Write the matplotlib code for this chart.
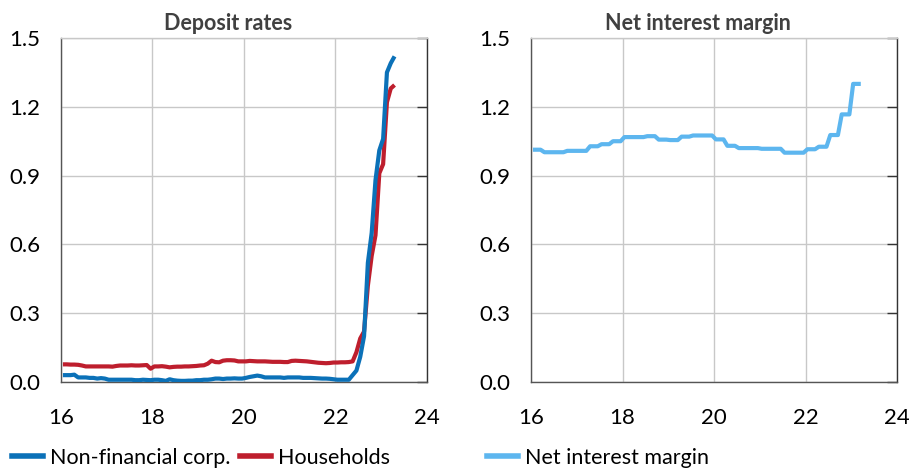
import matplotlib
matplotlib.use("Agg")
import matplotlib.pyplot as plt
import numpy as np
from matplotlib.lines import Line2D

plt.rcParams['font.family'] = ['Lato', 'DejaVu Sans']

# Monthly observations, Jan 2016 .. Apr 2023 (x = year - 2000)
months = np.arange(88)
x_months = 16 + (months + 0.5) / 12.0

nfc = [0.030, 0.030, 0.030, 0.032, 0.020, 0.020, 0.020, 0.018, 0.018, 0.015, 0.017, 0.015,
       0.010, 0.010, 0.010, 0.010, 0.010, 0.010, 0.010, 0.008, 0.008, 0.010, 0.009, 0.008,
       0.010, 0.010, 0.008, 0.005, 0.012, 0.008, 0.006, 0.005, 0.005, 0.006, 0.006, 0.008,
       0.008, 0.010, 0.010, 0.012, 0.015, 0.015, 0.013, 0.015, 0.015, 0.016, 0.015, 0.015,
       0.018, 0.022, 0.025, 0.028, 0.025, 0.020, 0.020, 0.020, 0.020, 0.020, 0.018, 0.020,
       0.020, 0.020, 0.020, 0.018, 0.018, 0.018, 0.017, 0.016, 0.015, 0.015, 0.014, 0.012,
       0.010, 0.010, 0.010, 0.010, 0.030, 0.050, 0.110, 0.200, 0.520, 0.650, 0.880, 1.010,
       1.060, 1.350, 1.390, 1.420]

households = [0.077, 0.077, 0.076, 0.076, 0.075, 0.072, 0.068, 0.068, 0.068, 0.068, 0.068, 0.068,
              0.068, 0.067, 0.070, 0.072, 0.072, 0.072, 0.073, 0.072, 0.072, 0.073, 0.074, 0.058,
              0.068, 0.068, 0.069, 0.067, 0.064, 0.066, 0.067, 0.067, 0.068, 0.068, 0.069, 0.070,
              0.072, 0.073, 0.080, 0.093, 0.087, 0.086, 0.093, 0.095, 0.095, 0.094, 0.090, 0.090,
              0.090, 0.092, 0.091, 0.090, 0.090, 0.090, 0.089, 0.088, 0.088, 0.088, 0.087, 0.087,
              0.092, 0.093, 0.092, 0.091, 0.090, 0.088, 0.086, 0.084, 0.083, 0.082, 0.083, 0.085,
              0.085, 0.086, 0.086, 0.087, 0.090, 0.130, 0.190, 0.220, 0.420, 0.550, 0.640, 0.910,
              0.950, 1.220, 1.280, 1.295]

nim = [1.013, 1.013, 1.013, 1.002, 1.002, 1.002, 1.002, 1.002, 1.002, 1.008, 1.008, 1.008,
       1.008, 1.008, 1.008, 1.028, 1.028, 1.028, 1.037, 1.037, 1.037, 1.050, 1.050, 1.050,
       1.068, 1.068, 1.068, 1.068, 1.068, 1.068, 1.072, 1.072, 1.072, 1.057, 1.057, 1.057,
       1.055, 1.055, 1.055, 1.070, 1.070, 1.070, 1.075, 1.075, 1.075, 1.075, 1.075, 1.075,
       1.058, 1.058, 1.058, 1.030, 1.030, 1.030, 1.020, 1.020, 1.020, 1.020, 1.020, 1.020,
       1.017, 1.017, 1.017, 1.017, 1.017, 1.017, 1.000, 1.000, 1.000, 1.000, 1.000, 1.000,
       1.015, 1.015, 1.015, 1.026, 1.026, 1.026, 1.077, 1.077, 1.077, 1.167, 1.167, 1.167,
       1.300, 1.300, 1.300]

x_ticks = [16, 18, 20, 22, 24]
y_ticks = [0.0, 0.3, 0.6, 0.9, 1.2, 1.5]
y_labels = ["0.0", "0.3", "0.6", "0.9", "1.2", "1.5"]

titles = ["Deposit rates", "Net interest margin"]
c_nfc = "#0B71B8"
c_hh = "#BE1E2D"
c_nim = "#5DB6EF"

fig = plt.figure(figsize=(9.09, 4.70), dpi=100)
ax1 = fig.add_axes([0.0671, 0.1872, 0.4026, 0.7319])
ax2 = fig.add_axes([0.5842, 0.1872, 0.4026, 0.7319])

ax1.plot(x_months, households, color=c_hh, lw=3.0, solid_capstyle='butt', zorder=3)
ax1.plot(x_months, nfc, color=c_nfc, lw=3.0, solid_capstyle='butt', zorder=4)
ax2.plot(x_months[:len(nim)], nim, color=c_nim, lw=3.0, solid_capstyle='butt', zorder=3)

for ax, t in zip([ax1, ax2], titles):
    ax.set_xlim(16, 24)
    ax.set_ylim(0, 1.5)
    ax.set_xticks(x_ticks)
    ax.set_yticks(y_ticks)
    ax.set_yticklabels(y_labels)
    ax.grid(True, color="#c8c8c8", lw=1.0, zorder=0)
    ax.set_axisbelow(True)
    ax.tick_params(axis='x', length=0, pad=19, labelsize=16, colors="#000000")
    ax.tick_params(axis='y', which='both', left=False, right=True, direction='in',
                   length=7, width=1.0, color="#333333", pad=15, labelsize=16)
    ax.tick_params(axis='y', labelleft=True, labelright=False)
    for lbl in ax.get_yticklabels():
        lbl.set_horizontalalignment('right')
    ax.spines['top'].set_color("#c8c8c8")
    ax.spines['top'].set_linewidth(1.0)
    ax.spines['left'].set_color("#555555")
    ax.spines['left'].set_linewidth(1.0)
    ax.spines['right'].set_color("#333333")
    ax.spines['right'].set_linewidth(1.0)
    ax.spines['bottom'].set_color("#555555")
    ax.spines['bottom'].set_linewidth(1.0)
    ax.set_title(t, fontsize=15.5, fontweight='bold', color="#404040", pad=6, x=0.456)

h1 = [Line2D([], [], color=c_nfc, lw=4), Line2D([], [], color=c_hh, lw=4)]
fig.legend(h1, ["Non-financial corp.", "Households"], loc='center left',
           bbox_to_anchor=(0.0132, 0.026), ncol=2, frameon=False, fontsize=15.5,
           handlelength=1.45, handletextpad=0.3, columnspacing=0.45,
           borderpad=0, borderaxespad=0)
h2 = [Line2D([], [], color=c_nim, lw=4)]
fig.legend(h2, ["Net interest margin"], loc='center left',
           bbox_to_anchor=(0.5358, 0.026), ncol=1, frameon=False, fontsize=15.5,
           handlelength=1.45, handletextpad=0.3, borderpad=0, borderaxespad=0)

fig.savefig("out.png", dpi=100)
